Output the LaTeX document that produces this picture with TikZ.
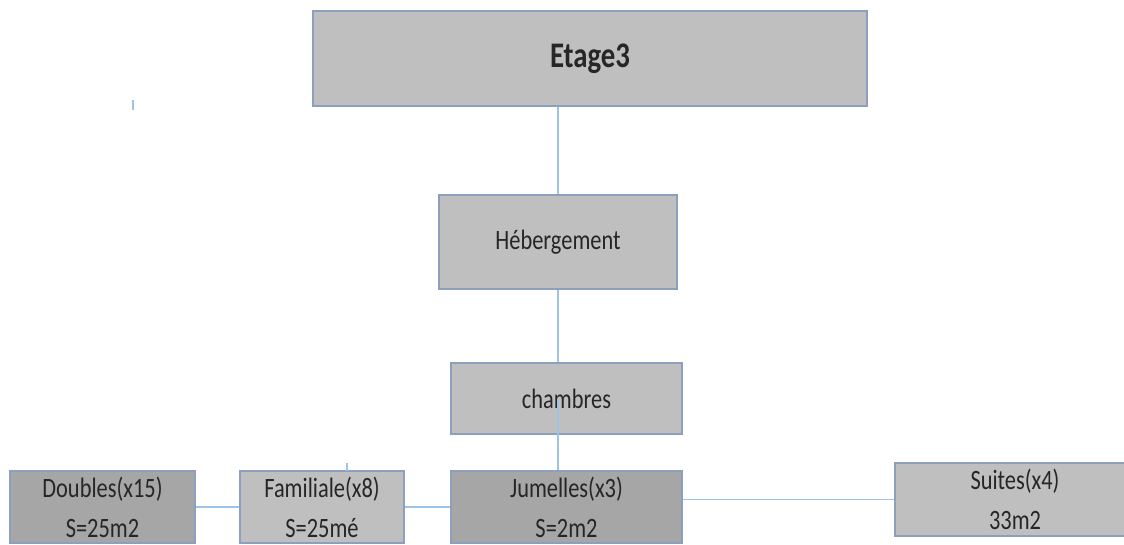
\documentclass[tikz,border=0pt]{standalone}
\usepackage{fontspec}
\setmainfont{Carlito}
\newfontfamily\boxfont[FakeStretch=0.8]{Carlito}
\usepackage{xcolor}
\usepackage{tikz}
\usetikzlibrary{positioning}
\definecolor{boxline}{RGB}{140,160,190}
\definecolor{linkline}{RGB}{157,195,230}
\definecolor{boxlight}{RGB}{191,191,191}
\definecolor{boxdark}{RGB}{166,166,166}

\begin{document}
\begin{tikzpicture}[
  x=0.75pt, y=-0.75pt,
  box/.style={draw=boxline, line width=1pt, fill=boxlight, inner sep=0pt, align=center,
    text=black!85, font=\boxfont\fontsize{21}{30}\selectfont},
  darkbox/.style={box, fill=boxdark},
  link/.style={draw=linkline, line width=1.1pt}
]
\useasboundingbox (0,0) rectangle (1124,545);

\node[box, minimum width=415.5pt, minimum height=71.25pt, font=\boxfont\bfseries\fontsize{27}{30}\selectfont] (etage) at (590,58.5) {Etage3};
\node[box, minimum width=178.5pt, minimum height=70.5pt] (heb) at (558,242) {Hébergement};
\node[box, minimum width=173.25pt, minimum height=53.25pt] (chb) at (566.5,398.5) {chambres};

\node[darkbox, minimum width=138.75pt, minimum height=54pt] (dbl) at (102.5,507) {Doubles(x15)\\S=25m2};
\node[box, minimum width=123pt, minimum height=54pt] (fam) at (322,507) {Familiale(x8)\\S=25mé};
\node[darkbox, minimum width=173.25pt, minimum height=54pt] (jum) at (566.5,507) {Jumelles(x3)\\S=2m2};
\node[box, minimum width=180pt, minimum height=54.75pt] (sui) at (1015,499.5) {Suites(x4)\\33m2};

\draw[link] (heb.north) -- (heb.north |- etage.south);
\draw[link] (heb.south) -- (heb.south |- chb.north);
\draw[link] (chb.center -| heb.south) -- (heb.south |- jum.north);
\draw[link] (dbl.east) -- (fam.west);
\draw[link] (fam.east) -- (jum.west);
\draw[link] (sui.west -| jum.east) -- (sui.west);

\draw[link, line width=0.8pt] (133,100) -- (133,110);
\draw[link, line width=0.8pt] (347,463) -- (347,471);
\end{tikzpicture}
\end{document}
